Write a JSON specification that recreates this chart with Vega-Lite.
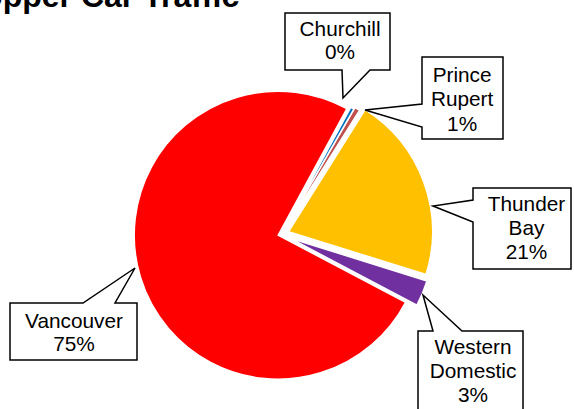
{
  "$schema": "https://vega.github.io/schema/vega-lite/v6.json",
  "width": 564,
  "height": 350,
  "autosize": {"type": "none"},
  "padding": {"left": 0, "top": 59, "right": 10, "bottom": 0},
  "background": "white",
  "config": {"view": {"stroke": null}},
  "data": {"values": [
    {"terminal": "Churchill", "share": 0.4},
    {"terminal": "Prince Rupert", "share": 0.6},
    {"terminal": "Thunder Bay", "share": 20.9},
    {"terminal": "Western Domestic", "share": 2.9},
    {"terminal": "Vancouver", "share": 75.2}
  ]},
  "transform": [
    {"stack": "share", "groupby": [], "as": ["v0", "v1"]},
    {"calculate": "(datum.v0 + datum.v1) / 2", "as": "mid"},
    {"calculate": "replace(datum.terminal, ' ', '\\n') + '\\n' + format(datum.share, '.0f') + '%'", "as": "label"}
  ],
  "layer": [
    {
      "transform": [{"filter": "datum.terminal === 'Vancouver'"}],
      "mark": {"type": "arc", "radius": 144, "stroke": "white", "strokeWidth": 1.5, "xOffset": -3.8, "yOffset": 1.2},
      "encoding": {
        "theta": {"field": "v0", "type": "quantitative", "stack": null, "scale": {"domain": [0, 100], "range": [0.4974, 6.7806]}},
        "theta2": {"field": "v1"},
        "color": {"field": "terminal", "type": "nominal", "legend": null, "scale": {"domain": ["Churchill", "Prince Rupert", "Thunder Bay", "Western Domestic", "Vancouver"], "range": ["#0070C0", "#C0504D", "#FFC000", "#7030A0", "#FF0000"]}}
      }
    },
    {
      "transform": [{"filter": "datum.terminal === 'Thunder Bay'"}],
      "mark": {"type": "arc", "radius": 144, "stroke": "white", "strokeWidth": 1.5, "xOffset": 6.6, "yOffset": -2.4},
      "encoding": {
        "theta": {"field": "v0", "type": "quantitative", "stack": null, "scale": {"domain": [0, 100], "range": [0.4974, 6.7806]}},
        "theta2": {"field": "v1"},
        "color": {"field": "terminal", "type": "nominal", "legend": null}
      }
    },
    {
      "transform": [{"filter": "datum.terminal === 'Western Domestic'"}],
      "mark": {"type": "arc", "radius": 144, "stroke": "white", "strokeWidth": 1.5, "xOffset": 7.5, "yOffset": 4},
      "encoding": {
        "theta": {"field": "v0", "type": "quantitative", "stack": null, "scale": {"domain": [0, 100], "range": [0.4974, 6.7806]}},
        "theta2": {"field": "v1"},
        "color": {"field": "terminal", "type": "nominal", "legend": null}
      }
    },
    {
      "transform": [{"filter": "datum.terminal === 'Prince Rupert'"}],
      "mark": {"type": "arc", "radius": 144, "stroke": "white", "strokeWidth": 1.5, "xOffset": 1, "yOffset": -1.7},
      "encoding": {
        "theta": {"field": "v0", "type": "quantitative", "stack": null, "scale": {"domain": [0, 100], "range": [0.4974, 6.7806]}},
        "theta2": {"field": "v1"},
        "color": {"field": "terminal", "type": "nominal", "legend": null}
      }
    },
    {
      "transform": [{"filter": "datum.terminal === 'Churchill'"}],
      "mark": {"type": "arc", "radius": 144, "stroke": "white", "strokeWidth": 1.5},
      "encoding": {
        "theta": {"field": "v0", "type": "quantitative", "stack": null, "scale": {"domain": [0, 100], "range": [0.4974, 6.7806]}},
        "theta2": {"field": "v1"},
        "color": {"field": "terminal", "type": "nominal", "legend": null}
      }
    },
    {
      "data": {"values": [{"callouts": "all"}]},
      "mark": {"type": "point", "size": 4, "filled": true, "fill": "white", "stroke": "black", "strokeWidth": 1.5, "opacity": 1,
        "shape": "M3,-221 L108,-221 L108,-164 L88,-164 L61,-136 L60,-164 L3,-164 Z M140,-177 L221,-177 L221,-95 L140,-95 L140,-107 L83,-124 L140,-130 Z M191,-46 L289,-46 L289,35 L191,35 L191,-12 L151,-28 L191,-34 Z M136,97 L151,97 L141,61 L180,97 L241,97 L241,186 L136,186 Z M-272,69 L-199,69 L-147,34 L-167,69 L-145,69 L-145,126 L-272,126 Z"},
      "encoding": {}
    },
    {
      "data": {"values": [{"title": "Hopper Car Traffic"}]},
      "mark": {"type": "text", "dx": -322, "dy": -227, "align": "left", "baseline": "alphabetic", "font": "Liberation Sans", "fontSize": 32, "fontWeight": "bold", "color": "black"},
      "encoding": {"text": {"field": "title"}}
    },
    {
      "transform": [{"filter": "datum.terminal === 'Churchill'"}],
      "mark": {"type": "text", "radius": 215, "dx": -46.9, "dy": -16.8, "font": "Liberation Sans", "fontSize": 20.8, "lineHeight": 23.5, "lineBreak": "\n", "align": "center", "baseline": "middle", "color": "black"},
      "encoding": {"theta": {"field": "mid", "type": "quantitative", "stack": null}, "text": {"field": "label"}}
    },
    {
      "transform": [{"filter": "datum.terminal === 'Prince Rupert'"}],
      "mark": {"type": "text", "radius": 215, "dx": 69.3, "dy": 25.8, "font": "Liberation Sans", "fontSize": 20.8, "lineHeight": 24.5, "lineBreak": "\n", "align": "center", "baseline": "middle", "color": "black"},
      "encoding": {"theta": {"field": "mid", "type": "quantitative", "stack": null}, "text": {"field": "label"}}
    },
    {
      "transform": [{"filter": "datum.terminal === 'Thunder Bay'"}],
      "mark": {"type": "text", "radius": 215, "dx": 42.8, "dy": 45.6, "font": "Liberation Sans", "fontSize": 20.8, "lineHeight": 24, "lineBreak": "\n", "align": "center", "baseline": "middle", "color": "black"},
      "encoding": {"theta": {"field": "mid", "type": "quantitative", "stack": null}, "text": {"field": "label"}}
    },
    {
      "transform": [{"filter": "datum.terminal === 'Western Domestic'"}],
      "mark": {"type": "text", "radius": 215, "dx": -7.5, "dy": 31.9, "font": "Liberation Sans", "fontSize": 20.8, "lineHeight": 24, "lineBreak": "\n", "align": "center", "baseline": "middle", "color": "black"},
      "encoding": {"theta": {"field": "mid", "type": "quantitative", "stack": null}, "text": {"field": "label"}}
    },
    {
      "transform": [{"filter": "datum.terminal === 'Vancouver'"}],
      "mark": {"type": "text", "radius": 215, "dx": -2.2, "dy": 25.4, "font": "Liberation Sans", "fontSize": 20.8, "lineHeight": 23.5, "lineBreak": "\n", "align": "center", "baseline": "middle", "color": "black"},
      "encoding": {"theta": {"field": "mid", "type": "quantitative", "stack": null}, "text": {"field": "label"}}
    }
  ]
}
